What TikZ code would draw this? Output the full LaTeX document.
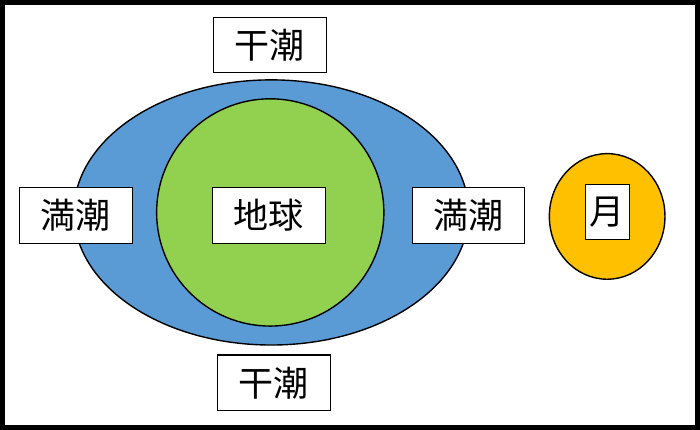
\documentclass[tikz,border=0pt]{standalone}
\usepackage{fontspec}
\newfontfamily\cjk{Noto Sans CJK JP}
\definecolor{oblue}{HTML}{5B9BD5}
\definecolor{ogreen}{HTML}{92D050}
\definecolor{oorange}{HTML}{FFC000}
\begin{document}
\begin{tikzpicture}[x=0.02cm,y=-0.02cm,
  lbl/.style={draw=black,fill=white,line width=0.6pt,font=\cjk\fontsize{20}{24}\selectfont,minimum width=2.26cm,minimum height=1.12cm,inner sep=0pt}]
\draw[line width=3pt] (1.5,1.5) rectangle (698.5,427.5);
\useasboundingbox (0,0) rectangle (700,429);
\draw[fill=oblue,line width=0.8pt] (271,212) ellipse [x radius=198, y radius=133];
\draw[fill=ogreen,line width=0.8pt] (270,212) circle [radius=114];
\draw[fill=oorange,line width=0.8pt] (608,216) ellipse [x radius=58, y radius=63];
\node[lbl] (t1) at (269.5,44) {干潮};
\node[lbl] (t2) at (273.5,383) {干潮};
\node[lbl] (m1) at (75,215) {満潮};
\node[lbl] (m2) at (469,215) {満潮};
\node[lbl] (e) at (268.5,215) {地球};
\node[lbl,minimum width=0.88cm] (moon) at (608,211.5) {月};
\end{tikzpicture}
\end{document}
